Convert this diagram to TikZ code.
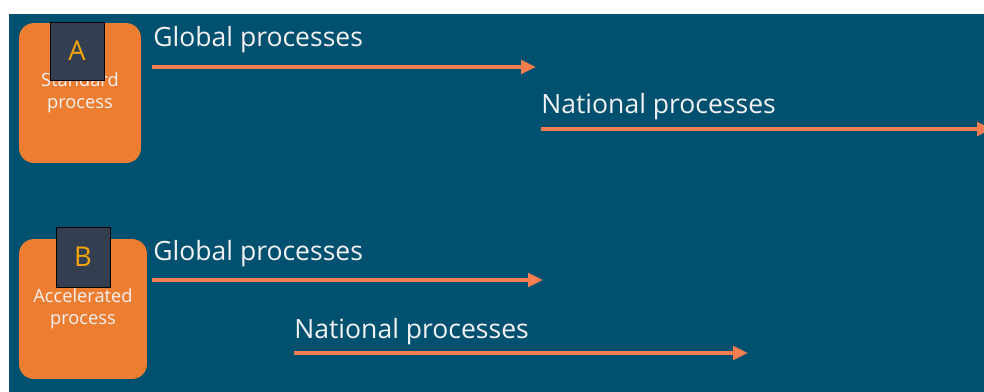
\documentclass[tikz,border=0pt]{standalone}
\usepackage{fontspec}
\setmainfont{Open Sans}
\usetikzlibrary{arrows.meta}

\definecolor{bgblue}{RGB}{0,80,112}
\definecolor{boxorange}{RGB}{237,125,49}
\definecolor{flowcoral}{RGB}{247,126,80}
\definecolor{tagslate}{RGB}{51,63,80}
\definecolor{tagletter}{RGB}{245,165,10}

\begin{document}
\begin{tikzpicture}[x=0.02cm, y=-0.02cm]
        \tikzstyle{track} = [fill=boxorange, rounded corners=0.3cm, text=white!95!black, align=center,
                             font=\fontsize{10.4}{12.5}\selectfont, minimum height=2.8cm, inner sep=0pt]
        \tikzstyle{tag} = [draw=black, fill=tagslate, text=tagletter, font=\fontsize{15.5}{18}\selectfont,
                           minimum width=1.08cm, inner sep=0pt]
        \tikzstyle{phase} = [anchor=base west, inner sep=0pt, text=white!95!black, font=\fontsize{15.1}{18}\selectfont]
        \tikzstyle{flow} = [draw=flowcoral, line width=2.4pt, -{Triangle[length=0.3cm, width=0.27cm]}]

        \useasboundingbox (0,0) rectangle (984,392);
        \fill[bgblue] (9,14) rectangle (984,392);
        \clip (9,14) rectangle (984,392);

        % standard route
        \node[track, minimum width=2.44cm] (standard) at (80,93) {Standard\\process};
        \node[tag, minimum height=1.16cm] (tag A) at (77,51) {A};
        \node[phase] (global A) at (153,46) {Global processes};
        \node[phase] (national A) at (541,113) {National processes};
        \coordinate (global A start) at (152,67);
        \coordinate (global A end) at (536,67);
        \coordinate (national A start) at (541,129);
        \coordinate (national A end) at (992,129);

        % accelerated route
        \node[track, minimum width=2.56cm] (accelerated) at (83,309) {Accelerated\\process};
        \node[tag, minimum height=1.2cm] (tag B) at (83,257) {B};
        \node[phase] (global B) at (153,260) {Global processes};
        \node[phase] (national B) at (294,338) {National processes};
        \coordinate (global B start) at (152,280);
        \coordinate (global B end) at (543,280);
        \coordinate (national B start) at (294,353);
        \coordinate (national B end) at (748,353);

        \path[flow] (global A start) to (global A end);
        \path[flow] (national A start) to (national A end);
        \path[flow] (global B start) to (global B end);
        \path[flow] (national B start) to (national B end);
    \end{tikzpicture}
\end{document}
